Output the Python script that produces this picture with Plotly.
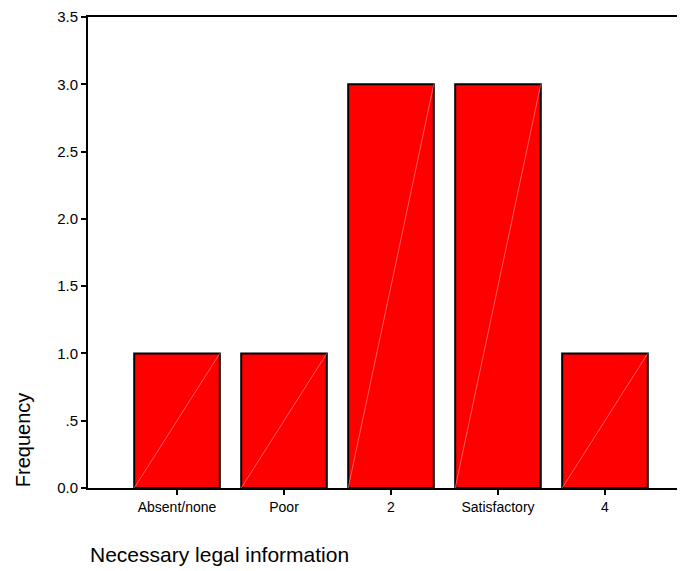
import plotly.graph_objects as go

categories = ["Absent/none", "Poor", "2", "Satisfactory", "4"]
frequency = [1, 1, 3, 3, 1]
y_tick_vals = [0, 0.5, 1.0, 1.5, 2.0, 2.5, 3.0, 3.5]
y_tick_text = ["0.0", ".5", "1.0", "1.5", "2.0", "2.5", "3.0", "3.5"]

FONT = "Liberation Sans, Arial, sans-serif"
pos = list(range(len(categories)))
bar_w = 0.8

fig = go.Figure()
fig.add_trace(go.Bar(
    x=pos, y=frequency, width=bar_w,
    marker=dict(color="#ff0000", line=dict(color="black", width=2)),
    hoverinfo="skip", showlegend=False,
))

# faint diagonal rendering lines inside bars
dx, dy = [], []
for p, v in zip(pos, frequency):
    dx += [p - bar_w / 2, p + bar_w / 2, None]
    dy += [0, v, None]
fig.add_trace(go.Scatter(
    x=dx, y=dy, mode="lines",
    line=dict(color="#ff9a9a", width=0.6),
    hoverinfo="skip", showlegend=False,
))

fig.update_layout(
    width=677, height=563,
    margin=dict(l=80, r=0, t=7, b=83),
    paper_bgcolor="white", plot_bgcolor="white",
    font=dict(family=FONT, color="black"),
    xaxis=dict(
        range=[-0.832, 4.748],
        tickmode="array", tickvals=pos, ticktext=categories,
        ticks="outside", ticklen=5, tickwidth=1.5, tickcolor="black",
        showline=True, linecolor="black", linewidth=2, mirror=True,
        showgrid=False, zeroline=False,
        tickfont=dict(size=14, family=FONT),
    ),
    yaxis=dict(
        range=[0, 3.5],
        tickmode="array", tickvals=y_tick_vals, ticktext=y_tick_text,
        ticks="outside", ticklen=5, tickwidth=1.5, tickcolor="black",
        showline=True, linecolor="black", linewidth=2,
        showgrid=False, zeroline=False, ticklabeloverflow="allow",
        tickfont=dict(size=15, family=FONT),
    ),
    annotations=[
        dict(text="Frequency", xref="paper", yref="paper",
             x=-0.109, y=0.1036, xanchor="center", yanchor="middle",
             textangle=-90, showarrow=False, font=dict(size=20, family=FONT)),
        dict(text="Necessary legal information", xref="paper", yref="paper",
             x=0, y=-0.1417, xanchor="left", yanchor="middle",
             showarrow=False, font=dict(size=21, family=FONT)),
    ],
)

fig.write_html("out.html")
